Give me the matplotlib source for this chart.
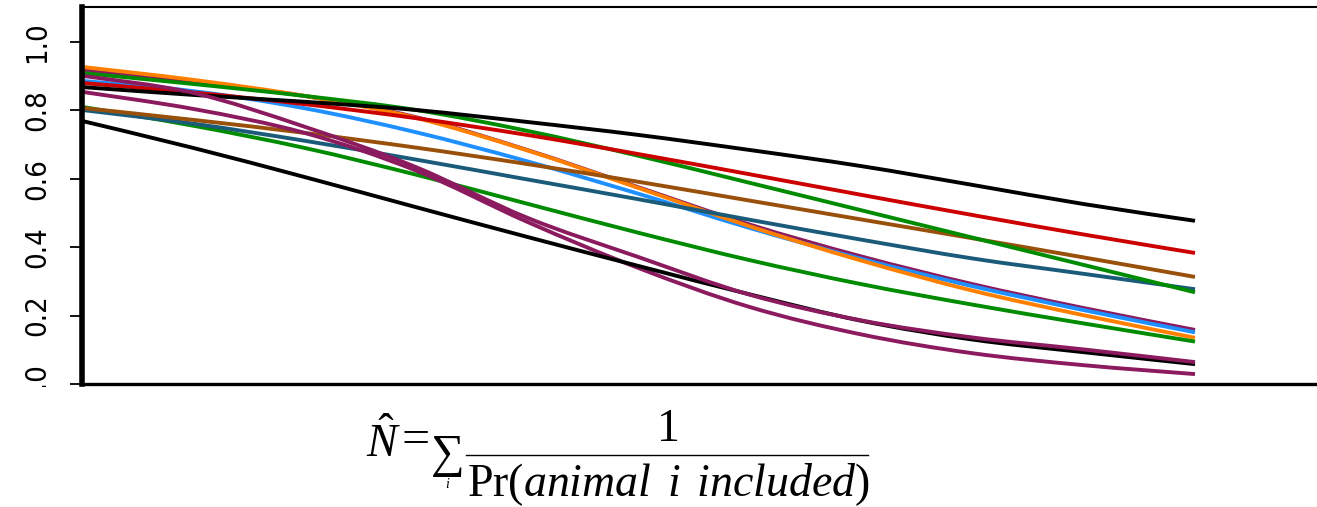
import matplotlib
matplotlib.use("Agg")
import matplotlib.pyplot as plt
from matplotlib.patches import Rectangle, PathPatch
from matplotlib.lines import Line2D
from matplotlib.path import Path

plt.rcParams['mathtext.fontset'] = 'custom'
plt.rcParams['mathtext.rm'] = 'Liberation Serif'
plt.rcParams['mathtext.it'] = 'Liberation Serif:italic'

# distance steps (no axis labels in the original)
dist = [0, 10, 20, 30, 40, 50, 60, 70, 80, 90, 100]

# detection curves
purple_a = [0.918, 0.883, 0.842, 0.780, 0.684, 0.575, 0.466, 0.373, 0.292, 0.222, 0.158]
blue     = [0.886, 0.856, 0.806, 0.736, 0.651, 0.556, 0.456, 0.366, 0.286, 0.216, 0.151]
orange   = [0.927, 0.889, 0.842, 0.778, 0.683, 0.573, 0.461, 0.361, 0.273, 0.201, 0.135]
green_b  = [0.810, 0.755, 0.690, 0.612, 0.527, 0.442, 0.362, 0.292, 0.232, 0.177, 0.124]
teal     = [0.801, 0.761, 0.711, 0.656, 0.598, 0.540, 0.480, 0.422, 0.367, 0.322, 0.277]
brown    = [0.807, 0.772, 0.734, 0.691, 0.643, 0.591, 0.536, 0.481, 0.426, 0.370, 0.313]
green_a  = [0.909, 0.877, 0.842, 0.801, 0.740, 0.667, 0.588, 0.508, 0.428, 0.348, 0.268]
red      = [0.880, 0.852, 0.818, 0.777, 0.728, 0.672, 0.613, 0.553, 0.494, 0.437, 0.383]
black_a  = [0.868, 0.845, 0.825, 0.801, 0.766, 0.728, 0.684, 0.637, 0.582, 0.526, 0.477]
purple_c = [0.854, 0.804, 0.734, 0.624, 0.474, 0.339, 0.225, 0.145, 0.090, 0.055, 0.029]
black_b  = [0.769, 0.690, 0.605, 0.517, 0.430, 0.345, 0.262, 0.185, 0.130, 0.093, 0.058]
purple_b = [0.901, 0.851, 0.752, 0.634, 0.486, 0.371, 0.261, 0.186, 0.136, 0.101, 0.064]

curves = [purple_a, blue, orange, green_b, teal, brown, green_a, red, black_a,
          purple_c, black_b, purple_b]
cols = ["#8B1A5E", "#1E90FF", "#FF8000", "#008B00", "#1B5B7A", "#99500A", "#008B00",
        "#CC0000", "#000000", "#8B1A5E", "#000000", "#8B1A5E"]

yticks = [0.0, 0.2, 0.4, 0.6, 0.8, 1.0]
ytick_labels = ["0.0", "0.2", "0.4", "0.6", "0.8", "1.0"]


def smooth_path(x, y):
    # curve through the points (Catmull-Rom as cubic bezier segments)
    pts = list(zip(x, y))
    verts = [pts[0]]
    codes = [Path.MOVETO]
    n = len(pts)
    for i in range(n - 1):
        p0 = pts[i - 1] if i > 0 else pts[i]
        p1 = pts[i]
        p2 = pts[i + 1]
        p3 = pts[i + 2] if i + 2 < n else p2
        c1 = (p1[0] + (p2[0] - p0[0]) / 6, p1[1] + (p2[1] - p0[1]) / 6)
        c2 = (p2[0] - (p3[0] - p1[0]) / 6, p2[1] - (p3[1] - p1[1]) / 6)
        verts += [c1, c2, p2]
        codes += [Path.CURVE4] * 3
    return Path(verts, codes)


W, H = 1317, 507
fig = plt.figure(figsize=(W / 100, H / 100), dpi=100)

def fx(px):
    return px / W

def fy(py):
    return 1 - py / H

ax = fig.add_axes([fx(82), fy(384), fx(1340) - fx(82), fy(7) - fy(384)])
for c, y in zip(cols, curves):
    ax.add_patch(PathPatch(smooth_path(dist, y), fill=False, edgecolor=c, lw=2.8,
                           capstyle='butt', joinstyle='round'))

ax.set_xlim(0, (1340 - 82) / 11.13)
ax.set_ylim(0, 1.102)
ax.set_xticks([])
ax.set_yticks(yticks)
ax.set_yticklabels(ytick_labels, rotation=90, va='center', fontstretch='condensed',
                   family=['Liberation Sans Narrow', 'DejaVu Sans'], fontsize=21)
ax.tick_params(axis='y', length=9, width=1.3, pad=13)
ax.spines['right'].set_visible(False)
ax.spines['left'].set_linewidth(4)
ax.spines['bottom'].set_linewidth(2.4)
ax.spines['top'].set_linewidth(1.5)

# white band under the plot, the lowest tick label is cut off there
fig.patches.append(Rectangle((0, 0), 1, fy(387), transform=fig.transFigure,
                             facecolor='white', edgecolor='none', zorder=5))

# estimator formula
fig.text(fx(366), fy(457), r'$\hat{N}$', fontsize=33, zorder=6)
fig.text(fx(401), fy(453), '=', fontsize=36, family='Liberation Serif', zorder=6)
fig.text(fx(431), fy(467), '\u2211', fontsize=34, family=['Liberation Serif', 'DejaVu Serif'], zorder=6)
fig.text(fx(445), fy(488), r'$i$', fontsize=10, zorder=6)
fig.text(fx(668), fy(441), '1', fontsize=33, family='Liberation Serif', ha='center', zorder=6)
fig.add_artist(Line2D([fx(466), fx(868)], [fy(455), fy(455)], color='black', lw=1, zorder=6))
fig.text(fx(668), fy(496), r'$\mathrm{Pr}(animal\ \,i\ \,included)$', fontsize=33,
         ha='center', zorder=6)

fig.savefig('out.png', dpi=100)
